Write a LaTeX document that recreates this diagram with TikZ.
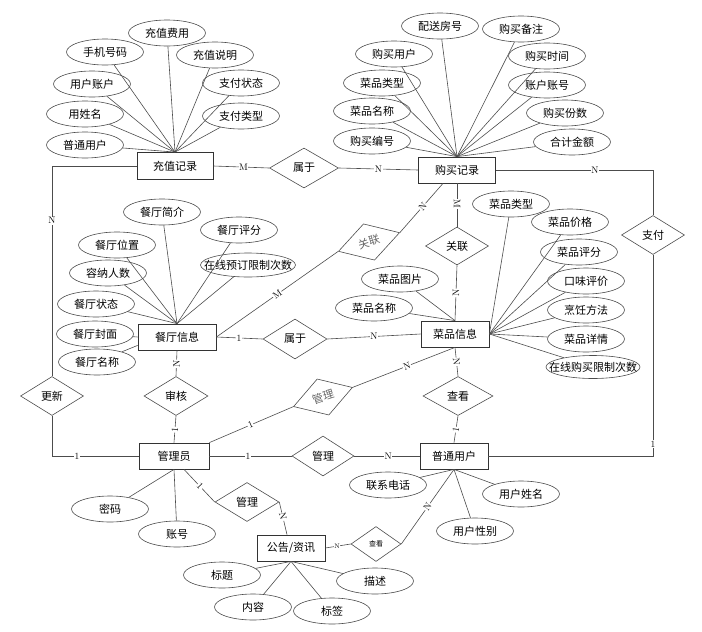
\documentclass[tikz,border=0pt]{standalone}
\usepackage{fontspec}
\newfontfamily\cjk{Noto Sans CJK SC}
\usetikzlibrary{shapes.geometric,calc}
\begin{document}
\begin{tikzpicture}
  [x=1pt,y=-1pt,line width=.6pt,draw=black!70,
   entity/.style={rectangle,draw=black!80,line width=.8pt,minimum width=68pt,minimum height=26pt,inner sep=0pt,font=\cjk\fontsize{11}{13}\selectfont},
   attr/.style={ellipse,draw=black!70,minimum width=77pt,minimum height=26pt,inner sep=0pt,font=\cjk\fontsize{11}{13}\selectfont},
   rel/.style={diamond,draw=black!70,minimum width=64pt,minimum height=39pt,inner sep=0pt,font=\cjk\fontsize{11}{13}\selectfont},
   card/.style={fill=white,inner sep=.6pt,font=\fontsize{9.5}{10}\selectfont}]
  \useasboundingbox (0,0) rectangle (702,632);

  % entities
  \node[entity,minimum width=76pt,minimum height=27pt] (czjl) at (175,166) {充值记录};
  \node[entity,minimum width=77pt] (gmjl) at (457,170) {购买记录};
  \node[entity,minimum width=78pt] (ctxx) at (177,337) {餐厅信息};
  \node[entity] (cpxx) at (455,334) {菜品信息};
  \node[entity,minimum width=70pt] (gly) at (174,456) {管理员};
  \node[entity] (ptyh) at (454,456) {普通用户};
  \node[entity] (ggzx) at (291,548) {公告/资讯};

  % relations
  \node[rel,minimum width=69pt,minimum height=40pt] (sy1) at (304,168) {属于};
  \node[rel,minimum height=40pt] (sy2) at (295,339) {属于};
  \node[rel,minimum width=63pt,minimum height=38pt] (gl1) at (457,246) {关联};
  \node[rel,minimum height=38pt,rotate=17,text=black!60] (gl2) at (369,242) {关联};
  \node[rel,minimum width=63pt] (zf) at (653,235) {支付};
  \node[rel,minimum width=63pt] (gx) at (52,396) {更新};
  \node[rel] (sh) at (176,396) {审核};
  \node[rel,minimum width=62pt,minimum height=38pt,rotate=18,text=black!60] (gl3) at (323,397) {管理};
  \node[rel,minimum width=70pt] (ck1) at (458,396) {查看};
  \node[rel,minimum width=62pt,minimum height=40pt] (gl5) at (323,456) {管理};
  \node[rel] (gl4) at (247,502) {管理};
  \node[rel,minimum width=50pt,minimum height=35pt,font=\cjk\fontsize{7}{8}\selectfont] (ck2) at (376,544) {查看};

  % attributes of 充值记录
  \node[attr] (a1) at (167,33) {充值费用};
  \node[attr] (a2) at (105,52) {手机号码};
  \node[attr] (a3) at (215,55) {充值说明};
  \node[attr] (a4) at (92,84) {用户账户};
  \node[attr] (a5) at (241,83) {支付状态};
  \node[attr] (a6) at (85,114) {用姓名};
  \node[attr] (a7) at (241,116) {支付类型};
  \node[attr] (a8) at (85,145) {普通用户};
  % attributes of 购买记录
  \node[attr] (b1) at (440,26) {配送房号};
  \node[attr] (b2) at (521,29) {购买备注};
  \node[attr] (b3) at (394,54) {购买用户};
  \node[attr] (b4) at (547,56) {购买时间};
  \node[attr] (b5) at (382,83) {菜品类型};
  \node[attr] (b6) at (547,85) {账户账号};
  \node[attr] (b7) at (372,111) {菜品名称};
  \node[attr] (b8) at (565,113) {购买份数};
  \node[attr] (b9) at (372,141) {购买编号};
  \node[attr] (b10) at (572,142) {合计金额};
  % attributes of 餐厅信息
  \node[attr] (c1) at (162,212) {餐厅简介};
  \node[attr] (c2) at (239,230) {餐厅评分};
  \node[attr] (c3) at (117,245) {餐厅位置};
  \node[attr,minimum width=95pt,minimum height=24pt] (c4) at (248,265) {\makebox[0pt]{在线预订限制次数}};
  \node[attr] (c5) at (108,273) {容纳人数};
  \node[attr] (c6) at (96,304) {餐厅状态};
  \node[attr] (c7) at (95,334) {餐厅封面};
  \node[attr] (c8) at (97,362) {餐厅名称};
  % attributes of 菜品信息
  \node[attr] (d1) at (511,204) {菜品类型};
  \node[attr] (d2) at (570,222) {菜品价格};
  \node[attr] (d3) at (579,252) {菜品评分};
  \node[attr] (d4) at (400,279) {菜品图片};
  \node[attr] (d5) at (586,281) {口味评价};
  \node[attr] (d6) at (374,308) {菜品名称};
  \node[attr] (d7) at (586,310) {烹饪方法};
  \node[attr] (d8) at (586,339) {菜品详情};
  \node[attr,minimum width=94pt,minimum height=23pt] (d9) at (593,367) {\makebox[0pt]{在线购买限制次数}};
  % attributes of 管理员, 普通用户, 公告/资讯
  \node[attr] (e1) at (110,509) {密码};
  \node[attr] (e2) at (177,534) {账号};
  \node[attr] (f1) at (388,485) {联系电话};
  \node[attr] (f2) at (521,494) {用户姓名};
  \node[attr] (f3) at (475,531) {用户性别};
  \node[attr] (g1) at (222,575) {标题};
  \node[attr] (g2) at (253,607) {内容};
  \node[attr] (g3) at (332,611) {标签};
  \node[attr] (g4) at (375,581) {描述};

  \foreach \a in {a1,a2,a3,a4,a5,a6,a7,a8}
    \draw (\a) -- (czjl.north);
  \foreach \a in {b1,b2,b3,b4,b5,b6,b7,b8,b9,b10}
    \draw (\a) -- (gmjl.north);
  \foreach \a in {c1,c2,c3,c4,c5,c6}
    \draw (\a) -- (ctxx.north);
  \draw (c7) -- (ctxx.west);
  \draw (c8) -- ($(ctxx.south west)+(0,-5)$);
  \foreach \a in {d4,d6}
    \draw (\a) -- (cpxx.north);
  \foreach \a in {d1,d2,d3,d5,d7,d8,d9}
    \draw (\a) -- (cpxx.east);
  \foreach \a in {e1,e2}
    \draw (\a) -- (gly.south);
  \foreach \a in {f1,f2,f3}
    \draw (\a) -- (ptyh.south);
  \foreach \a in {g1,g2,g3,g4}
    \draw (\a) -- (ggzx.south);

  % relationship lines
  \draw (czjl.east) -- node[card,pos=.54]{M} (sy1.west);
  \draw (sy1.east) -- node[card,pos=.5]{N} (gmjl.west);
  \draw (czjl.west) -| node[card,pos=.63]{N} (gx.north);
  \draw (gx.south) |- node[card,pos=.645]{1} (gly.west);
  \draw (gmjl.east) -| node[card,pos=.315]{N} (zf.north);
  \draw (zf.south) |- node[card,pos=.47]{1} (ptyh.east);
  \draw (gmjl.south) -- node[card,sloped,pos=.48]{M} (gl1.north);
  \draw (gl1.south) -- node[card,sloped,pos=.5]{N} (cpxx.north);
  \draw (ctxx.east) -- node[card,sloped,pos=.5]{M} (gl2.west);
  \draw (gl2.east) -- node[card,sloped,pos=.53]{N} ($(gmjl.south)+(-14,0)$);
  \draw (ctxx.east) -- node[card,pos=.49]{1} (sy2.west);
  \draw (sy2.east) -- node[card,pos=.5]{N} (cpxx.west);
  \draw (ctxx.south) -- node[card,sloped,pos=.52]{N} (sh.north);
  \draw (sh.south) -- node[card,sloped,pos=.52]{1} (gly.north);
  \draw (gly.north east) -- node[card,sloped,pos=.49]{1} (gl3.west);
  \draw (gl3.east) -- node[card,sloped,pos=.53]{N} (cpxx.south);
  \draw (gly.east) -- node[card,pos=.47]{1} (gl5.west);
  \draw (gl5.east) -- node[card,pos=.52]{N} (ptyh.west);
  \draw (cpxx.south) -- node[card,sloped,pos=.5]{N} (ck1.north);
  \draw (ck1.south) -- node[card,sloped,pos=.52]{1} (ptyh.north);
  \draw ($(gly.south)+(10,0)$) -- node[card,sloped,pos=.52]{1} (gl4.west);
  \draw (gl4.east) -- node[card,sloped,pos=.45]{N} ($(ggzx.north)+(-4,0)$);
  \draw (ggzx.east) -- node[card,pos=.46,font=\fontsize{6.5}{7}\selectfont]{N} (ck2.west);
  \draw (ck2.east) -- node[card,sloped,pos=.5]{N} (ptyh.south);
\end{tikzpicture}
\end{document}
